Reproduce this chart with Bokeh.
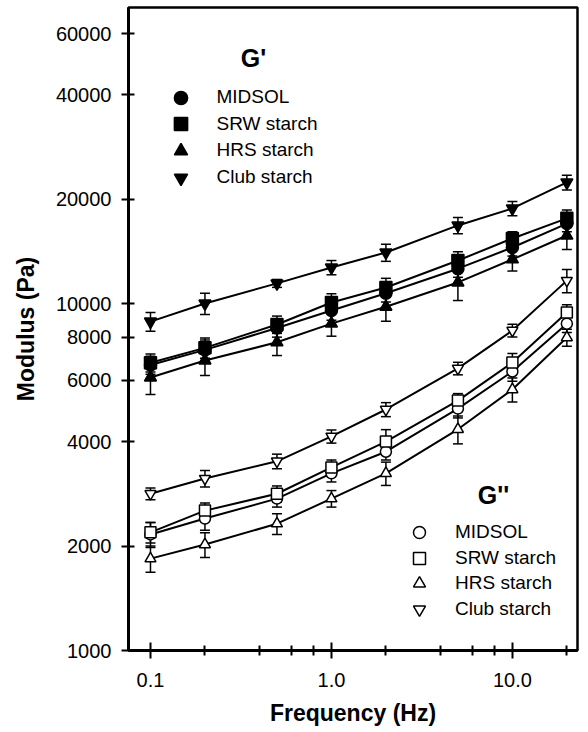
from bokeh.plotting import figure
from bokeh.models import (ColumnDataSource, FixedTicker, PrintfTickFormatter, Whisker,
                          Legend, LegendItem, Label, TeeHead)
from bokeh.embed import file_html
from bokeh.resources import INLINE

# ---------------- data ----------------
freq = [0.1, 0.2, 0.5, 1.0, 2.0, 5.0, 10.0, 20.0]
series_names = ["MIDSOL", "SRW starch", "HRS starch", "Club starch"]

# G' (storage modulus, Pa)
gp_midsol = [6650, 7350, 8500, 9550, 10700, 12600, 14500, 17000]
gp_srw = [6750, 7450, 8700, 10070, 11120, 13300, 15400, 17600]
gp_hrs = [6120, 6850, 7730, 8750, 9790, 11500, 13400, 15700]
gp_club = [8870, 10000, 11430, 12700, 14030, 16790, 18790, 22330]
gp_midsol_err = [400, 500, 500, 600, 600, 700, 800, 900]
gp_srw_err = [400, 500, 500, 600, 700, 800, 700, 1000]
gp_hrs_err = [650, 650, 650, 700, 900, 1300, 1000, 1400]
gp_club_err = [550, 700, 300, 600, 800, 900, 900, 1100]

# G'' (loss modulus, Pa)
gpp_midsol = [2160, 2400, 2740, 3240, 3740, 4980, 6370, 8750]
gpp_srw = [2190, 2530, 2830, 3370, 4000, 5250, 6760, 9420]
gpp_hrs = [1840, 2020, 2320, 2740, 3240, 4340, 5650, 7980]
gpp_club = [2830, 3130, 3510, 4140, 4950, 6500, 8360, 11640]
gpp_midsol_err = [180, 180, 150, 180, 200, 300, 400, 500]
gpp_srw_err = [150, 130, 150, 170, 330, 250, 420, 500]
gpp_hrs_err = [160, 165, 160, 150, 250, 400, 450, 450]
gpp_club_err = [110, 170, 170, 180, 230, 270, 350, 900]

x_major_ticks = [0.1, 1.0, 10.0]
x_minor_ticks = [0.2, 0.4, 0.6, 0.8, 2, 4, 6, 8, 20]
y_ticks = [1000, 2000, 4000, 6000, 8000, 10000, 20000, 40000, 60000]

markers = ["circle", "square", "triangle", "inverted_triangle"]

FONT = "Liberation Sans"

p = figure(width=580, height=732, x_axis_type="log", y_axis_type="log",
           x_range=(0.0756, 22.9), y_range=(1000, 71300),
           output_backend="svg", toolbar_location=None,
           min_border_left=128, min_border_right=3, min_border_top=7,
           min_border_bottom=82)

p.grid.visible = False
p.outline_line_color = "black"
p.outline_line_width = 2.5
p.background_fill_color = "white"
p.border_fill_color = "white"

# axes
xa = p.xaxis[0]
xa.ticker = FixedTicker(ticks=x_major_ticks, minor_ticks=x_minor_ticks)
xa.formatter = PrintfTickFormatter(format="%.1f")
ya = p.yaxis[0]
ya.ticker = FixedTicker(ticks=y_ticks, minor_ticks=[])
ya.formatter = PrintfTickFormatter(format="%d")

for ax in (xa, ya):
    ax.axis_line_width = 3
    ax.axis_line_color = "black"
    ax.major_tick_line_width = 2
    ax.minor_tick_line_width = 2
    ax.major_label_text_font = FONT
    ax.major_label_text_font_size = "20px"
    ax.major_label_text_color = "black"
    ax.axis_label_text_font = FONT
    ax.axis_label_text_font_size = "23px"
    ax.axis_label_text_font_style = "bold"
    ax.axis_label_text_color = "black"

xa.major_tick_in = 8
xa.major_tick_out = 8
xa.minor_tick_in = 5
xa.minor_tick_out = 5
xa.major_label_standoff = 14
xa.axis_label = "Frequency (Hz)"
xa.axis_label_standoff = 10

ya.major_tick_in = 6
ya.major_tick_out = 7
ya.major_label_standoff = 10
ya.axis_label = "Modulus (Pa)"
ya.axis_label_standoff = 14


def add_series(vals, errs, marker, filled, size):
    lower = [v - e for v, e in zip(vals, errs)]
    upper = [v + e for v, e in zip(vals, errs)]
    src = ColumnDataSource(dict(x=freq, y=vals, lower=lower, upper=upper))
    w = Whisker(base="x", upper="upper", lower="lower", source=src, dimension="height",
                line_color="black", line_width=1.5, level="underlay",
                upper_head=TeeHead(size=10, line_width=1.5, line_color="black"),
                lower_head=TeeHead(size=10, line_width=1.5, line_color="black"))
    p.add_layout(w)
    p.line("x", "y", source=src, line_color="black", line_width=2)
    r = p.scatter("x", "y", source=src, marker=marker, size=size,
                  fill_color="black" if filled else "white",
                  line_color="black", line_width=1.5)
    return r


gp_vals = [gp_midsol, gp_srw, gp_hrs, gp_club]
gp_errs = [gp_midsol_err, gp_srw_err, gp_hrs_err, gp_club_err]
gpp_vals = [gpp_midsol, gpp_srw, gpp_hrs, gpp_club]
gpp_errs = [gpp_midsol_err, gpp_srw_err, gpp_hrs_err, gpp_club_err]

gpp_renderers = []
for v, e, m in zip(gpp_vals, gpp_errs, markers):
    gpp_renderers.append(add_series(v, e, m, False, 11))
gp_renderers = []
for v, e, m in zip(gp_vals, gp_errs, markers):
    gp_renderers.append(add_series(v, e, m, True, 12))


def add_legend_rows(renderers, x0, first_center, pitch, gw, gh, standoff):
    # one legend per row so that row pitch and glyph size can be set independently
    for i, (name, r) in enumerate(zip(series_names, renderers)):
        cy = first_center - i * pitch
        leg = Legend(items=[LegendItem(label=name, renderers=[r])],
                     location=(x0, cy - gh / 2), orientation="vertical",
                     glyph_width=gw, glyph_height=gh, spacing=0, label_standoff=standoff,
                     padding=0, margin=0, border_line_color=None, background_fill_alpha=0,
                     label_height=gh,
                     label_text_font=FONT, label_text_font_size="19px", label_text_color="black")
        p.add_layout(leg)


# G' legend (frame screen units from bottom-left)
add_legend_rows(gp_renderers, 35.5, 553, 26.7, 33, 33, 20)
# G'' legend
add_legend_rows(gpp_renderers, 276, 118, 25.7, 30, 30, 21)

p.add_layout(Label(x=125, y=593, x_units="screen", y_units="screen", text="G'",
                   text_font=FONT, text_font_size="25px", text_font_style="bold",
                   text_align="center", text_baseline="middle", text_color="black"))
p.add_layout(Label(x=365, y=156, x_units="screen", y_units="screen", text="G''",
                   text_font=FONT, text_font_size="25px", text_font_style="bold",
                   text_align="center", text_baseline="middle", text_color="black"))

open("out.html", "w").write(file_html(p, INLINE))
